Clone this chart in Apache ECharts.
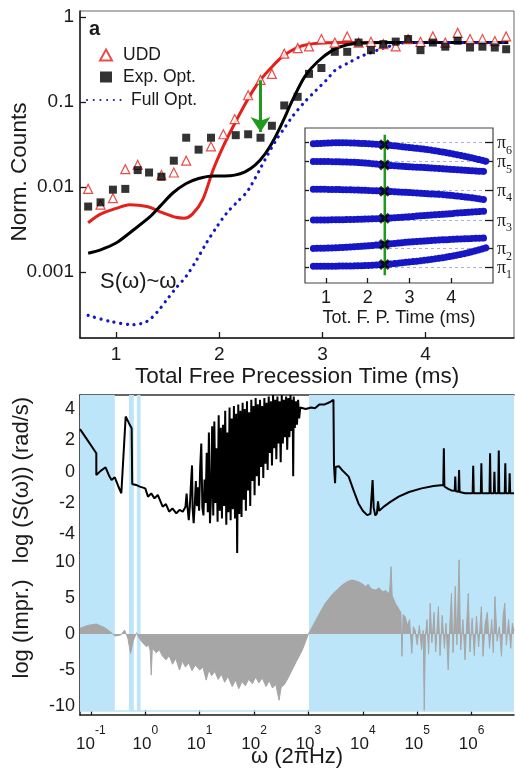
<!DOCTYPE html>
<html><head><meta charset="utf-8">
<script src="https://cdn.jsdelivr.net/npm/echarts@6/dist/echarts.min.js"></script>
<style>html,body{margin:0;padding:0;background:#fff}#c{width:515px;height:769px}</style>
</head><body><div id="c"></div>
<script>
// ---------------- Panel a : main plot (Norm. Counts vs total free precession time, ms) ----------------
const uddT = [0.73,0.85,0.97,1.09,1.21,1.44,1.56,1.68,1.92,2.04,2.15,2.28,2.40,2.51,2.63,2.76,2.87,2.99,3.12,3.24,3.35,3.47,3.59,3.71,3.83,3.95,4.07,4.19,4.31,4.43,4.55,4.67,4.78];
const uddCounts = [0.0095,0.0062,0.0074,0.0162,0.0182,0.0138,0.0148,0.0204,0.030,0.0417,0.063,0.120,0.182,0.214,0.37,0.43,0.45,0.55,0.50,0.59,0.50,0.51,0.48,0.45,0.55,0.51,0.59,0.50,0.65,0.55,0.55,0.52,0.59];
const expT = [0.73,0.85,0.97,1.09,1.21,1.32,1.44,1.56,1.68,1.80,1.92,2.16,2.28,2.40,2.51,2.63,2.76,2.87,2.99,3.12,3.24,3.35,3.47,3.59,3.71,3.83,3.95,4.07,4.19,4.31,4.43,4.55,4.67,4.78];
const expCounts = [0.00589,0.0066,0.0093,0.0095,0.0158,0.0148,0.0132,0.0204,0.038,0.0275,0.038,0.0407,0.0417,0.038,0.0525,0.091,0.115,0.214,0.251,0.389,0.389,0.50,0.407,0.479,0.513,0.55,0.407,0.50,0.447,0.525,0.437,0.447,0.437,0.417];
const uddFitT = [0.73,0.85,1.0,1.13,1.3,1.45,1.58,1.66,1.74,1.84,1.94,2.04,2.13,2.23,2.33,2.40,2.50,2.62,2.78,2.95,3.2,3.6,4.0,4.4,4.8];
const uddFitCounts = [0.0038,0.0048,0.0056,0.0062,0.0059,0.0050,0.0044,0.0043,0.0048,0.0071,0.0158,0.0302,0.0501,0.0851,0.138,0.182,0.251,0.347,0.447,0.490,0.50,0.50,0.50,0.50,0.50];
const expFitT = [0.73,0.85,1.0,1.15,1.33,1.43,1.55,1.68,1.80,1.94,2.05,2.15,2.25,2.35,2.45,2.54,2.62,2.71,2.83,2.95,3.10,3.23,3.36,3.6,4.0,4.4,4.8];
const expFitCounts = [0.00166,0.00182,0.00219,0.0030,0.00447,0.0060,0.0085,0.011,0.0126,0.0135,0.0135,0.0138,0.0151,0.0182,0.0251,0.038,0.0603,0.105,0.20,0.295,0.407,0.468,0.49,0.50,0.50,0.50,0.50];
const fullT = [0.73,0.94,1.17,1.30,1.40,1.49,1.58,1.68,1.78,1.875,1.97,2.07,2.17,2.26,2.30,2.39,2.47,2.55,2.63,2.71,2.82,2.94,3.04,3.13,3.25,3.36,3.47,3.58,3.70,3.81,4.1,4.5,4.8];
const fullCounts = [0.000309,0.000263,0.00024,0.000263,0.000339,0.000468,0.000646,0.000891,0.00138,0.00219,0.00331,0.0049,0.0066,0.0085,0.010,0.0158,0.024,0.0355,0.049,0.0676,0.0977,0.138,0.182,0.24,0.288,0.339,0.38,0.427,0.468,0.50,0.50,0.50,0.50];
const arrowT = 2.40, arrowFrom = 0.18, arrowTo = 0.0444;
const countTicks = [0.001,0.01,0.1,1];
const timeTicks = [1,2,3,4];

// ---------------- Panel a : inset (pulse positions) ----------------
const insetT = [0.7,1.3,1.9,2.4,2.9,3.4,3.9,4.4,4.85];
const pi1 = [0.108,0.109,0.112,0.119,0.133,0.148,0.168,0.195,0.229];
const pi2 = [0.223,0.228,0.238,0.249,0.262,0.272,0.280,0.286,0.291];
const pi3 = [0.406,0.408,0.412,0.417,0.426,0.436,0.446,0.456,0.464];
const pi4 = [0.605,0.603,0.598,0.592,0.585,0.577,0.568,0.553,0.536];
const pi5 = [0.784,0.782,0.775,0.762,0.752,0.744,0.735,0.726,0.719];
const pi6 = [0.898,0.905,0.900,0.892,0.877,0.862,0.840,0.813,0.784];
const piLevels = [0.104,0.223,0.406,0.600,0.784,0.907];
const piLabels = ['1','2','3','4','5','6'];
const markerT = 2.4;
const greenT = 2.41, greenSpan = [0.05,0.957];
const insetTicks = [1,2,3,4];

// ---------------- Panel b : spectra (x = log10 omega) ----------------
const specLogS = [
[-1.2,2.72],[-1.05,1.95],[-0.90,1.18],[-0.90,-0.21],[-0.82,0.05],[-0.73,0.28],[-0.66,-0.30],[-0.62,-0.53],[-0.56,-0.36],[-0.50,-0.90],[-0.44,-1.38],[-0.36,3.53],[-0.30,3.10],[-0.25,2.78],[-0.24,-0.79],[-0.17,-0.85],[-0.10,-0.96],[0.00,-1.07],[0.05,-1.60],[0.11,-1.39],[0.17,-1.71],[0.23,-1.49],[0.32,-2.24],[0.38,-2.07],[0.44,-2.56],[0.50,-2.35],[0.57,-2.67],[0.63,-2.45],[0.69,-2.56],[0.74,-2.24],
[0.76,-1.4],[0.78,-2.4],[0.80,-3.1],[0.82,-2.2],[0.84,-0.8],[0.86,0.4],[0.87,-2.3],[0.89,-3.3],[0.91,-2.1],[0.93,-0.6],[0.95,-2.2],[0.97,-1.0],[0.99,-2.5],[1.01,0.3],[1.03,1.8],[1.05,-2.3],[1.07,-2.8],[1.09,-0.5],[1.11,-2.0],[1.13,1.2],[1.15,-2.6],[1.17,2.5],[1.19,-3.3],[1.21,-1.5],
[1.23,2.9],[1.25,-2.8],[1.27,3.2],[1.29,-2.0],[1.31,1.5],[1.33,-3.2],[1.35,3.6],[1.37,-2.5],[1.39,2.8],[1.41,-3.0],[1.43,3.0],[1.45,-2.2],[1.47,3.9],[1.49,-3.4],[1.51,2.5],[1.53,-2.6],[1.55,4.1],[1.57,-3.1],[1.59,3.4],[1.61,-2.4],[1.63,4.2],[1.65,-3.0],[1.67,3.7],[1.69,-5.2],[1.71,4.3],[1.73,-2.7],[1.75,3.9],
[1.77,-2.9],[1.79,4.4],[1.81,-1.8],[1.83,4.0],[1.85,-2.5],[1.87,4.5],[1.89,-1.2],[1.91,3.8],[1.93,-2.2],[1.95,4.6],[1.97,-0.6],[1.99,4.2],[2.01,-1.5],[2.03,4.7],[2.05,-0.3],[2.07,4.3],[2.09,-0.9],[2.11,4.6],[2.13,0.3],[2.15,4.2],[2.17,-0.4],[2.19,4.7],[2.21,0.5],[2.23,4.4],[2.25,0.1],
[2.27,4.8],[2.29,1.2],[2.31,4.5],[2.33,0.4],[2.35,4.9],[2.37,1.5],[2.39,4.6],[2.41,0.8],[2.43,4.8],[2.45,1.8],[2.47,4.5],[2.49,0.6],[2.51,4.9],[2.53,1.8],[2.55,4.6],[2.57,2.2],[2.59,4.8],[2.61,1.4],[2.63,4.7],[2.65,2.2],[2.67,4.9],[2.69,2.6],[2.71,4.6],[2.72,-0.3],[2.73,4.8],[2.75,2.8],[2.77,4.5],[2.79,3.0],[2.81,4.6],[2.83,3.4],[2.85,4.1],
[2.95,4.0],[3.05,4.1],[3.12,4.05],[3.2,4.3],[3.3,4.3],[3.4,4.45],[3.46,4.6],[3.47,0.43],[3.49,-0.74],[3.50,0.3],[3.56,0.35],[3.62,0.1],[3.74,-0.32],[3.83,-1.2],[3.92,-2.03],[4.0,-2.5],[4.08,-2.78],[4.14,-2.70],[4.17,-2.70],[4.18,-0.53],[4.20,-2.3],[4.23,-2.8],[4.26,-2.67],[4.28,-1.9],[4.30,-2.5],[4.40,-2.2],[4.50,-1.95],[4.66,-1.60],[4.85,-1.30],[5.08,-1.07],[5.30,-0.92],[5.48,-0.85],[5.49,1.5],[5.50,-0.95],[5.57,-1.1],[5.63,-1.2],[5.69,-1.22],[5.70,-0.32],[5.71,-1.25],[5.76,-1.28],[5.77,0.11],[5.78,-1.3],[5.88,-1.38],[6.02,-1.38],[6.03,0.37],[6.04,-1.38],[6.17,-1.38],[6.18,0.54],[6.19,-1.38],[6.33,-1.38],[6.34,1.18],[6.35,-1.38],[6.41,-1.38],[6.42,0.0],[6.43,-1.38],[6.49,-1.38],[6.50,1.35],[6.51,-1.38],[6.61,-1.38],[6.62,0.54],[6.63,-1.38],[6.69,-1.38],[6.70,-0.1],[6.71,-1.38],[6.78,-1.38]
];
const imprLog = [
[-1.2,0.8],[-1.05,1.2],[-0.9,1.39],[-0.75,0.9],[-0.62,0.18],[-0.56,-0.28],[-0.45,-0.14],[-0.38,0.55],[-0.32,-0.6],[-0.27,-2.7],[-0.22,-0.9],[-0.16,0.18],[-0.12,-0.5],[-0.05,-1.2],[0.02,-1.76],[0.06,-1.5],[0.09,-2.3],[0.11,-5.7],[0.13,-2.0],[0.2,-2.6],[0.26,-2.2],[0.31,-3.0],[0.38,-3.6],[0.44,-3.0],[0.50,-4.2],[0.56,-3.4],[0.63,-5.0],[0.68,-3.8],[0.74,-4.6],[0.80,-4.0],[0.86,-5.1],[0.92,-4.3],[1.0,-5.0],[1.06,-4.6],[1.12,-6.4],[1.17,-5.0],[1.22,-5.8],[1.28,-5.2],[1.34,-6.3],[1.40,-5.6],[1.46,-6.7],[1.52,-5.9],[1.60,-7.3],[1.66,-6.4],[1.72,-7.6],[1.78,-6.6],[1.84,-7.2],[1.90,-6.3],[1.97,-6.9],[2.03,-6.0],[2.09,-6.8],[2.15,-6.1],[2.22,-7.3],[2.28,-6.5],[2.34,-7.5],[2.40,-7.0],[2.46,-9.2],[2.50,-7.4],[2.56,-7.0],[2.62,-6.2],[2.70,-5.0],[2.78,-3.8],[2.89,-2.2],[2.95,-1.0],[3.0,0.0],
[3.1,1.4],[3.2,2.8],[3.31,4.26],[3.45,5.6],[3.62,6.8],[3.72,7.3],[3.80,7.5],[3.92,7.27],[4.0,6.9],[4.05,6.6],[4.10,6.9],[4.15,6.3],[4.23,6.1],[4.30,6.4],[4.36,5.9],[4.42,6.0],[4.49,5.6],[4.52,9.35],[4.54,5.3],[4.60,4.26],[4.66,3.5],[4.70,3.0],[4.72,-3.1],[4.74,2.7],[4.78,2.4],[4.82,1.2],[4.86,2.0],[4.90,-2.7],[4.93,1.0],[4.96,0.55],
[5.0,-1.5],[5.04,1.2],[5.08,-2.2],[5.11,0.5],[5.13,-10.8],[5.15,-0.5],[5.18,2.0],[5.21,-2.8],[5.24,4.26],[5.27,-1.2],[5.31,3.0],[5.34,-2.5],[5.39,3.8],[5.42,-3.0],[5.46,2.6],[5.50,-2.0],[5.53,1.5],[5.57,-5.0],[5.60,1.2],[5.63,5.65],[5.66,-2.6],[5.70,6.6],[5.73,-1.5],[5.77,10.3],[5.80,-2.2],[5.84,2.0],[5.88,-3.6],[5.91,1.5],[5.94,5.65],[5.97,-2.5],[6.01,2.2],[6.05,-3.0],[6.09,2.5],[6.13,-1.8],[6.18,3.8],[6.21,-3.1],[6.25,1.5],[6.29,3.0],[6.33,-2.0],[6.37,2.0],[6.40,-2.6],[6.43,5.2],[6.47,-1.0],[6.51,1.0],[6.55,-3.1],[6.58,2.5],[6.61,4.3],[6.64,-1.5],[6.68,2.0],[6.72,-2.0],[6.75,1.5],[6.78,0.5]
];
const shadedBands = [[-1.2,-0.56],[-0.30,-0.21],[-0.154,-0.086],[3.01,6.78]];
const omegaTicks = [-1,0,1,2,3,4,5,6];
const specTicks = [-4,-2,0,2,4];
const imprTicks = [-10,-5,0,5,10];

// ---------------- build chart ----------------
const L10 = Math.log10;
const font = "'Liberation Sans', Arial, sans-serif";
const serif = "'Liberation Serif', 'Times New Roman', serif";
const ink = '#1a1a1a';
const RED = '#e3201b', BLUE = '#1616c4', GREEN = '#1f9a1f', GREY = '#a6a6a6', SKY = '#bde5fa';
const zip = (xs, ys, f) => xs.map((x, i) => [x, f ? f(ys[i]) : ys[i]]);

const axLine = {show: true, onZero: false, lineStyle: {color: ink, width: 1.5}};
function tick(vals, len) { return {show: true, inside: true, length: len || 6, customValues: vals, lineStyle: {color: ink, width: 1.3}}; }

const chart = echarts.init(document.getElementById('c'), null, {renderer: 'canvas'});

const insetCurves = [pi1, pi2, pi3, pi4, pi5, pi6];
const mIdx = insetT.indexOf(markerT);
const piOdd = piLevels.filter((v, i) => i % 2 === 0);
const piEven = piLevels.filter((v, i) => i % 2 === 1);
const piRich = {p: {fontSize: 18, lineHeight: 16, verticalAlign: 'top', fontFamily: serif, color: ink},
                s: {fontSize: 12, lineHeight: 10, verticalAlign: 'bottom', padding: [0, 0, -6, 0], fontFamily: serif, color: ink}};
const piFmt = v => '{p|\u03c0}{s|' + piLabels[piLevels.findIndex(p => Math.abs(p - v) < 1e-6)] + '}';
function piAxis(vals) {
  return {gridIndex: 1, type: 'value', position: 'right', min: 0, max: 1, axisLine: {show: false, onZero: false},
    axisTick: tick(vals, 8),
    axisLabel: {customValues: vals, margin: 4, color: ink, showMinLabel: true, showMaxLabel: true, hideOverlap: false,
      formatter: piFmt, rich: piRich},
    splitLine: {show: false}};
}

const option = {
  animation: false,
  backgroundColor: '#fff',
  textStyle: {fontFamily: font},
  grid: [
    {left: 80, top: 11, width: 434, height: 327, show: true, borderColor: '#666', borderWidth: 1, outerBoundsMode: 'none'},
    {left: 305, top: 128, width: 188, height: 155, show: true, backgroundColor: '#fff', borderColor: '#444', borderWidth: 1.2, outerBoundsMode: 'none'},
    {left: 80, top: 395, width: 434, height: 158, outerBoundsMode: 'none'},
    {left: 80, top: 553, width: 434, height: 162, outerBoundsMode: 'none'}
  ],
  xAxis: [
    {gridIndex: 0, type: 'value', min: 0.651, max: 4.856, axisLine: axLine, axisTick: tick(timeTicks),
     axisLabel: {customValues: timeTicks, fontSize: 19, color: ink, margin: 7},
     splitLine: {show: false},
     name: 'Total Free Precession Time (ms)', nameLocation: 'middle', nameGap: 22,
     nameTextStyle: {fontSize: 22.5, color: ink}},
    {gridIndex: 1, type: 'value', min: 0.5, max: 5.0, axisLine: {show: false, onZero: false}, axisTick: tick(insetTicks, 5),
     axisLabel: {customValues: insetTicks, fontSize: 18, color: ink, margin: 6},
     splitLine: {show: false},
     name: 'Tot. F. P. Time (ms)', nameLocation: 'middle', nameGap: 26,
     nameTextStyle: {fontSize: 18, color: ink}},
    {gridIndex: 2, type: 'value', position: 'top', min: -1.2, max: 6.78, axisLine: {show: true, onZero: false, lineStyle: {color: '#333', width: 1.5}},
     axisTick: {show: false}, axisLabel: {show: false}, splitLine: {show: false}},
    {gridIndex: 3, type: 'value', min: -1.2, max: 6.78, axisLine: axLine, axisTick: tick(omegaTicks, 5),
     axisLabel: {customValues: omegaTicks, margin: 10, color: ink,
       formatter: v => '{b|10}{s|' + Math.round(v) + '}',
       rich: {b: {fontSize: 17, lineHeight: 28, verticalAlign: 'bottom', color: ink, fontFamily: font},
              s: {fontSize: 12, lineHeight: 12, verticalAlign: 'top', color: ink, fontFamily: font}}},
     splitLine: {show: false}}
  ],
  yAxis: [
    {gridIndex: 0, type: 'value', min: -3.776, max: 0.07, axisLine: axLine, axisTick: tick(countTicks.map(L10)),
     axisLabel: {customValues: countTicks.map(L10), fontSize: 19, color: ink, margin: 6,
       formatter: v => String(countTicks.find(c => Math.abs(L10(c) - v) < 1e-6))},
     splitLine: {show: false}},
    piAxis(piOdd),
    {gridIndex: 1, type: 'value', position: 'left', min: 0, max: 1, axisLine: {show: false, onZero: false},
     axisTick: tick(piLevels, 4), axisLabel: {show: false},
     splitLine: {show: true, lineStyle: {type: [3, 3], color: '#a9b0dc', width: 1}}},
    {gridIndex: 2, type: 'value', min: -5.2, max: 4.9, axisLine: axLine, axisTick: tick(specTicks, 5),
     axisLabel: {customValues: specTicks, fontSize: 18, color: ink, margin: 5}, splitLine: {show: false}},
    {gridIndex: 3, type: 'value', min: -11.25, max: 11.25, axisLine: axLine, axisTick: tick(imprTicks, 5),
     axisLabel: {customValues: imprTicks, fontSize: 18, color: ink, margin: 5}, splitLine: {show: false}},
    piAxis(piEven)
  ],
  legend: [
    {data: ['UDD', 'Exp. Opt.'], orient: 'vertical', left: 99, top: 45,
     itemWidth: 12, itemHeight: 11, itemGap: 2, padding: 0, selectedMode: false,
     textStyle: {fontSize: 17.5, color: ink, lineHeight: 20, fontFamily: font, padding: [0, 0, 0, 6]}},
    {data: [{name: 'Full Opt.', itemStyle: {opacity: 0}}], orient: 'vertical', left: 86, top: 90,
     itemWidth: 34, itemHeight: 11, padding: 0, selectedMode: false,
     textStyle: {fontSize: 17.5, color: ink, lineHeight: 20, fontFamily: font, padding: [0, 0, 0, 5]}}
  ],
  series: [
    // fits
    {name: 'UDD fit', type: 'line', xAxisIndex: 0, yAxisIndex: 0, data: zip(uddFitT, uddFitCounts, L10),
     smooth: 0.3, symbol: 'none', lineStyle: {color: RED, width: 3}, z: 3,
     markLine: {silent: true, symbol: ['none', 'arrow'], symbolSize: 15, label: {show: false},
       lineStyle: {color: GREEN, width: 3, type: 'solid'},
       data: [[{coord: [arrowT, L10(arrowFrom)]}, {coord: [arrowT, L10(arrowTo)]}]]}},
    {name: 'Exp. fit', type: 'line', xAxisIndex: 0, yAxisIndex: 0, data: zip(expFitT, expFitCounts, L10),
     smooth: 0.3, symbol: 'none', lineStyle: {color: '#000', width: 3}, z: 3},
    {name: 'Full Opt.', type: 'line', xAxisIndex: 0, yAxisIndex: 0, data: zip(fullT, fullCounts, L10),
     smooth: 0.3, symbol: 'none', itemStyle: {color: BLUE},
     lineStyle: {color: BLUE, width: 3.2, type: [0.1, 6.6], cap: 'round'}, z: 3},
    {name: 'UDD', type: 'scatter', xAxisIndex: 0, yAxisIndex: 0, data: zip(uddT, uddCounts, L10),
     symbol: 'triangle', symbolSize: 9, itemStyle: {color: '#fff', borderColor: RED, borderWidth: 1.2}, z: 4},
    {name: 'Exp. Opt.', type: 'scatter', xAxisIndex: 0, yAxisIndex: 0, data: zip(expT, expCounts, L10),
     symbol: 'rect', symbolSize: 8, itemStyle: {color: '#000'}, z: 5},
    // inset
    ...insetCurves.map((arr, k) => ({name: 'pi' + (k + 1), type: 'line', xAxisIndex: 1, yAxisIndex: 1,
      data: zip(insetT, arr), smooth: 0.3, symbol: 'none',
      lineStyle: {color: BLUE, width: 7, type: [0.1, 3.6], cap: 'round'}, z: 3})),
    {name: 'green', type: 'line', xAxisIndex: 1, yAxisIndex: 1, data: greenSpan.map(v => [greenT, v]),
     symbol: 'none', lineStyle: {color: GREEN, width: 2.5}, z: 4},
    {name: 'cross', type: 'scatter', xAxisIndex: 1, yAxisIndex: 1,
     data: insetCurves.map(arr => [insetT[mIdx], arr[mIdx]]),
     symbol: 'path://M0,2 L2,0 L5,3 L8,0 L10,2 L7,5 L10,8 L8,10 L5,7 L2,10 L0,8 L3,5 Z', symbolSize: 11,
     itemStyle: {color: '#000'}, z: 5},
    // panel b
    {name: 'S', type: 'line', xAxisIndex: 2, yAxisIndex: 3, data: specLogS, symbol: 'none',
     lineStyle: {color: '#000', width: 2}, z: 3,
     markArea: {silent: true, itemStyle: {color: SKY}, data: shadedBands.map(b => [{xAxis: b[0]}, {xAxis: b[1]}])}},
    {name: 'Impr', type: 'line', xAxisIndex: 3, yAxisIndex: 4, data: imprLog, symbol: 'none',
     lineStyle: {color: GREY, width: 1}, areaStyle: {color: GREY, opacity: 1, origin: 0}, z: 3,
     markArea: {silent: true, itemStyle: {color: SKY}, data: shadedBands.map(b => [{xAxis: b[0], yAxis: -10.7}, {xAxis: b[1], yAxis: 11.25}])},
     markLine: {silent: true, symbol: 'none', label: {show: false}, lineStyle: {color: SKY, width: 1.5, type: 'solid'}, data: [{yAxis: -10.7}]}}
  ],
  graphic: [
    {type: 'text', left: 89, top: 19, style: {text: 'a', font: 'bold 20px ' + font, fill: ink}},
    {type: 'text', left: 89, top: 401, style: {text: 'b', font: 'bold 20px ' + font, fill: ink}},
    {type: 'text', left: 100, top: 271, style: {text: 'S(\u03c9)~\u03c9', font: '22px ' + font, fill: ink}},
    {type: 'text', x: 20, y: 172, rotation: Math.PI / 2, style: {text: 'Norm. Counts', font: '22.5px ' + font, fill: ink, align: 'center', verticalAlign: 'middle'}},
    {type: 'text', x: 22, y: 480, rotation: Math.PI / 2, style: {text: 'log (S(\u03c9)) (rad/s)', font: '22px ' + font, fill: ink, align: 'center', verticalAlign: 'middle'}},
    {type: 'text', x: 22, y: 629, rotation: Math.PI / 2, style: {text: 'log (Impr.)', font: '22px ' + font, fill: ink, align: 'center', verticalAlign: 'middle'}},
    {type: 'text', x: 297, y: 757, style: {text: '\u03c9 (2\u03c0Hz)', font: '22px ' + font, fill: ink, align: 'center', verticalAlign: 'middle'}}
  ]
};
chart.setOption(option);
</script>
</body></html>
